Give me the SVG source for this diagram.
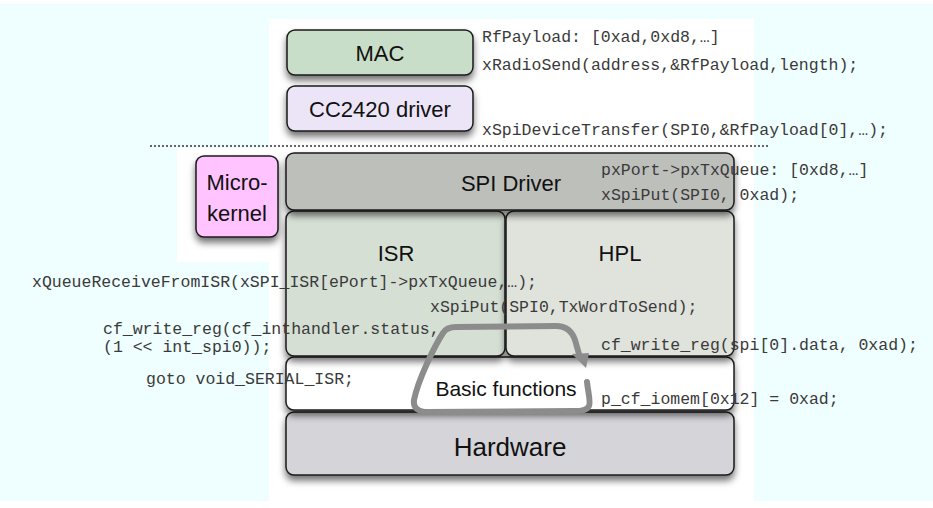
<svg xmlns="http://www.w3.org/2000/svg" width="933" height="508" viewBox="0 0 933 508">
<style>
.box{stroke:#1a1a1a;stroke-width:1.5;filter:url(#sh)}
.lbl{font-family:"Liberation Sans",Arial,sans-serif;font-size:22px;fill:#111;text-anchor:middle}
.code{font-family:"Liberation Mono","Courier New",monospace;font-size:16.5px;fill:#3a3a3a}
</style>
<defs>
<filter id="sh" x="-10%" y="-20%" width="120%" height="160%">
<feDropShadow dx="0" dy="5" stdDeviation="3.5" flood-color="#000" flood-opacity="0.55"/>
</filter>
</defs>
<rect x="0" y="0" width="933" height="508" fill="#ffffff"/>
<rect x="0" y="4" width="933" height="497" fill="#effefe"/>
<rect x="269" y="19" width="485" height="482" fill="#ffffff"/>
<rect x="177" y="148" width="92" height="114" fill="#ffffff"/>

<line x1="150" y1="146" x2="770" y2="146" stroke="#333" stroke-width="1.6" stroke-dasharray="2,2"/>

<g id="mac"><rect class="box" x="287" y="30" width="186" height="45" rx="8" fill="#c8dec8"/><text class="lbl" x="380" y="61">MAC</text></g>
<g id="cc2420"><rect class="box" x="287" y="86" width="186" height="45" rx="8" fill="#ece5f8"/><text class="lbl" x="380" y="117">CC2420 driver</text></g>
<g id="microkernel"><rect class="box" x="196" y="156" width="82" height="81" rx="8" fill="#ffc4ff"/><text class="lbl" x="237" y="190">Micro-</text><text class="lbl" x="237" y="221">kernel</text></g>
<g id="hardware"><rect class="box" x="286" y="412" width="448" height="63" rx="8" fill="#d4d4d9"/><text class="lbl" x="510" y="456" style="font-size:26px">Hardware</text></g>
<g id="basic"><rect class="box" x="286" y="357" width="448" height="53" rx="8" fill="#ffffff"/></g>
<g id="isr"><rect class="box" x="286" y="211" width="219" height="145" rx="8" fill="#d5dfd4"/><text class="lbl" x="396" y="261">ISR</text></g>
<g id="hpl"><rect class="box" x="506" y="211" width="228" height="145" rx="8" fill="#e0e2dc"/><text class="lbl" x="620" y="261">HPL</text></g>
<g id="spi"><rect class="box" x="286" y="153" width="448" height="57" rx="8" fill="#bdbfbb"/><text class="lbl" x="511" y="191">SPI Driver</text></g>

<g id="connectors">
<path d="M587,382 C588,392 591,402 589,406 C587,410 583,411 575,411 L428,412 C418,412 413,408 414,400 C418,380 435,345 443,333 C446,328 450,327 456,327 L556,326 C566,326 572,331 575,340 L579,354" fill="none" stroke="#8c8c8c" stroke-width="6" stroke-linecap="round" stroke-linejoin="round"/>
<polygon points="572,354 589,353 586,368" fill="#8c8c8c"/>
</g>
<g id="basic-label"><text class="lbl" x="506" y="396" style="font-size:21px">Basic functions</text></g>

<g id="code">
<text class="code" x="482" y="42">RfPayload: [0xad,0xd8,…]</text>
<text class="code" x="482" y="70">xRadioSend(address,&amp;RfPayload,length);</text>
<text class="code" x="482" y="135">xSpiDeviceTransfer(SPI0,&amp;RfPayload[0],…);</text>
<text class="code" x="601" y="175">pxPort-&gt;pxTxQueue: [0xd8,…]</text>
<text class="code" x="601" y="200">xSpiPut(SPI0, 0xad);</text>
<text class="code" x="32" y="287">xQueueReceiveFromISR(xSPI_ISR[ePort]-&gt;pxTxQueue,…);</text>
<text class="code" x="430" y="312">xSpiPut(SPI0,TxWordToSend);</text>
<text class="code" x="103" y="334">cf_write_reg(cf_inthandler.status,</text>
<text class="code" x="103" y="352">(1 &lt;&lt; int_spi0));</text>
<text class="code" x="601" y="350">cf_write_reg(spi[0].data, 0xad);</text>
<text class="code" x="146" y="384">goto void_SERIAL_ISR;</text>
<text class="code" x="601" y="404">p_cf_iomem[0x12] = 0xad;</text>
</g>
</svg>
